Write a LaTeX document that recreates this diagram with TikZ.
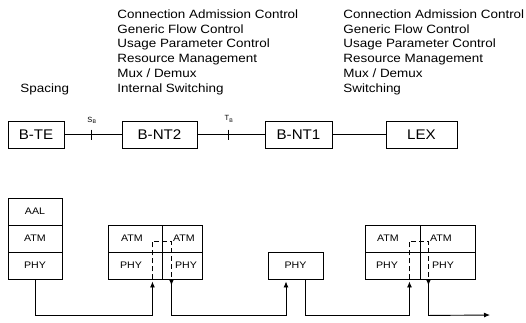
\documentclass[tikz,border=0pt]{standalone}
\usepackage{fontspec}
\setmainfont{Liberation Sans}
\newfontfamily\wfont[FakeStretch=1.12]{Liberation Sans}
\newfontfamily\bfont[FakeStretch=1.08]{Liberation Sans}
\usetikzlibrary{arrows.meta}
\begin{document}
\begin{tikzpicture}[x=1pt,y=-1pt,line width=0.9pt,
  topbox/.style={draw, inner sep=0pt, minimum height=27pt, font=\bfont\fontsize{14}{14}\selectfont},
  cell/.style={draw, inner sep=0pt, minimum height=27pt, minimum width=#1, font=\wfont\fontsize{9.5}{9.5}\selectfont},
  cell/.default=54pt,
  lab/.style={inner sep=0pt, font=\wfont\fontsize{9.5}{9.5}\selectfont},
  txt/.style={inner sep=0pt, anchor=base west, font=\wfont\fontsize{12}{12}\selectfont},
  reflab/.style={inner sep=0pt, font=\fontsize{7.5}{7.5}\selectfont},
  ar/.style={-{Latex[length=6pt,width=5pt]}},
  rar/.style={{Latex[length=6pt,width=5pt,reversed]}-{Latex[length=6pt,width=5pt]}},
  relay/.style={dash pattern=on 5pt off 3pt, line width=0.6pt}]
\useasboundingbox (0,0) rectangle (526,322);
\fill[white] (0,0) rectangle (526,322);
% function lists
\foreach \t [count=\i] in {Connection Admission Control,Generic Flow Control,Usage Parameter Control,Resource Management,Mux / Demux,Internal Switching}
  \node[txt] (la\i) at (117,{3.5+14.8*\i}) {\t};
\foreach \t [count=\i] in {Connection Admission Control,Generic Flow Control,Usage Parameter Control,Resource Management,Mux / Demux,Switching}
  \node[txt] (lb\i) at (343,{3.5+14.8*\i}) {\t};
\node[txt] (spacing) at (20,92.3) {Spacing};
% top row
\node[topbox, minimum width=56pt] (bte) at (36,134.5) {B-TE};
\node[topbox, minimum width=75pt] (bnt2) at (159.5,134.5) {B-NT2};
\node[topbox, minimum width=67pt] (bnt1) at (298.5,134.5) {B-NT1};
\node[topbox, minimum width=71pt] (lex) at (421.5,134.5) {LEX};
\draw (bte) -- (bnt2);
\draw (bnt2) -- (bnt1);
\draw (bnt1) -- (lex);
\coordinate (sb) at (91,134.5);
\coordinate (tb) at (228,134.5);
\draw ([yshift=5pt]sb) -- ([yshift=-5pt]sb);
\draw ([yshift=5pt]tb) -- ([yshift=-5pt]tb);
\node[reflab] (sblab) at (92,120) {S\textsubscript{B}};
\node[reflab] (tblab) at (229,119) {T\textsubscript{B}};
% bottom: left stack
\node[cell] (aal) at (35,211.5) {AAL};
\node[cell] (atm1) at (35,238.5) {ATM};
\node[cell] (phy1) at (35,265.5) {PHY};
% middle stack
\node[cell] (matmL) at (135,238.5) {};
\node[cell=40pt] (matmR) at (182,238.5) {};
\node[cell] (mphyL) at (135,265.5) {};
\node[cell=40pt] (mphyR) at (182,265.5) {};
\node[lab] (t1) at (132,238.5) {ATM};
\node[lab] (t2) at (184,238.5) {ATM};
\node[lab] (t3) at (131,265.5) {PHY};
\node[lab] (t4) at (186,265.5) {PHY};
% single PHY
\node[cell=55pt] (phy2) at (295.5,265.5) {PHY};
% right stack
\node[cell=55pt] (ratmL) at (392.5,238.5) {};
\node[cell=55pt] (ratmR) at (447.5,238.5) {};
\node[cell=55pt] (rphyL) at (392.5,265.5) {};
\node[cell=55pt] (rphyR) at (447.5,265.5) {};
\node[lab] (t5) at (388,238.5) {ATM};
\node[lab] (t6) at (441,238.5) {ATM};
\node[lab] (t7) at (387,265.5) {PHY};
\node[lab] (t8) at (443,265.5) {PHY};
% connection points
\coordinate (m_in) at ([xshift=-10pt]mphyL.south east);
\coordinate (m_out) at ([xshift=9pt]mphyL.south east);
\coordinate (p_in) at ([xshift=-9.5pt]phy2.south);
\coordinate (p_out) at ([xshift=9.5pt]phy2.south);
\coordinate (r_in) at ([xshift=-11pt]rphyL.south east);
\coordinate (r_out) at ([xshift=8pt]rphyL.south east);
\coordinate (sink) at (490,315);
% internal relay paths
\draw[relay] (m_in) -- ++(0,-38) -| (m_out);
\draw[relay] (r_in) -- ++(0,-38) -| (r_out);
% physical links
\draw[ar] (phy1.south) -- ++(0,36) -| ([yshift=-2pt]m_in);
\draw[rar] (m_out) -- ++(0,36) -| ([yshift=-2pt]p_in);
\draw[ar] (p_out) -- ++(0,36) -| ([yshift=-2pt]r_in);
\draw[rar] (r_out) -- ++(0,36) -- (sink);
\end{tikzpicture}
\end{document}
